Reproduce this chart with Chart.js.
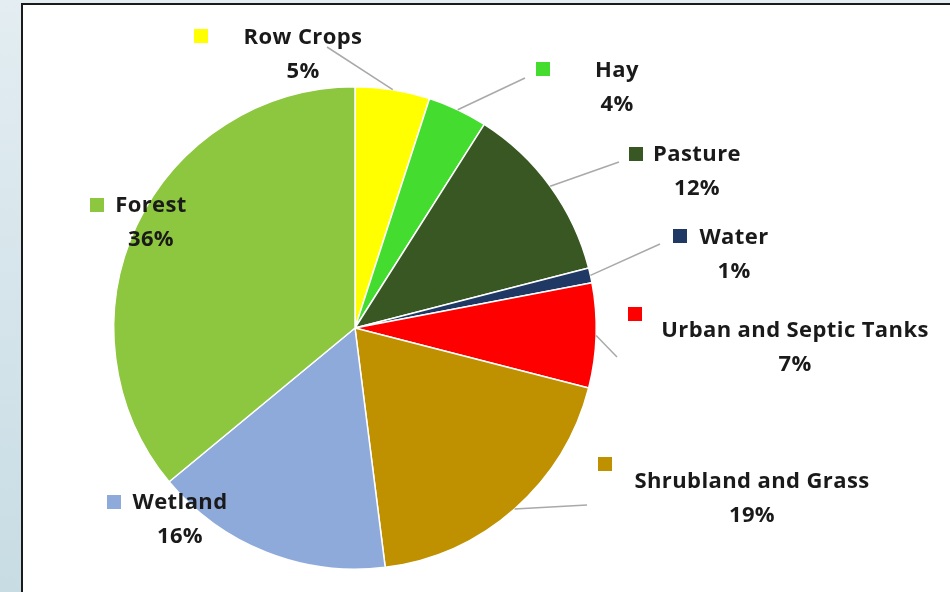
<!DOCTYPE html>
<html>
<head>
<meta charset="utf-8">
<script src="https://cdn.jsdelivr.net/npm/chart.js@4"></script>
<style>
  html, body { margin: 0; padding: 0; }
  body {
    width: 950px; height: 592px; overflow: hidden; position: relative;
    background: linear-gradient(to bottom, #e3edf2, #c8dce4);
  }
  #frame {
    position: absolute; left: 21px; top: 3px; width: 940px; height: 600px;
    background: #fff; border-left: 2.5px solid #1b1b1b; border-top: 2px solid #1b1b1b;
  }
  #wrap { position: absolute; left: 0; top: 0; width: 950px; height: 592px; }
</style>
</head>
<body>
<div id="frame"></div>
<div id="wrap"><canvas id="pie"></canvas></div>
<script>
const categories = ['Row Crops', 'Hay', 'Pasture', 'Water', 'Urban and Septic Tanks', 'Shrubland and Grass', 'Wetland', 'Forest'];
const shares = [5, 4, 12, 1, 7, 19, 16, 36];
const sliceColors = ['#ffff00', '#44dc2f', '#385723', '#1f3864', '#ff0000', '#bf9000', '#8eaadb', '#8dc63f'];

// where each callout sits: text centre, name line y, key square, leader end
const callouts = [
  {cx: 303, y: 38, key: [194, 29], lead: [327, 47]},
  {cx: 617, y: 71, key: [536, 62], lead: [525, 78]},
  {cx: 697, y: 155, key: [629, 147], lead: [619, 162]},
  {cx: 734, y: 238, key: [673, 229], lead: [660, 244]},
  {cx: 795, y: 331, key: [628, 307], lead: [617, 357]},
  {cx: 752, y: 482, key: [598, 457], lead: [587, 505]},
  {cx: 180, y: 503, key: [107, 495], lead: null},
  {cx: 151, y: 206, key: [90, 198], lead: null}
];

const calloutPlugin = {
  id: 'callouts',
  afterDatasetsDraw(chart) {
    const ctx = chart.ctx;
    const arcs = chart.getDatasetMeta(0).data;
    ctx.save();
    arcs.forEach((arc, i) => {
      const c = callouts[i];
      const {x, y, startAngle, endAngle, outerRadius} = arc.getProps(['x', 'y', 'startAngle', 'endAngle', 'outerRadius'], true);
      if (c.lead) {
        const mid = (startAngle + endAngle) / 2;
        ctx.beginPath();
        ctx.moveTo(x + Math.cos(mid) * outerRadius, y + Math.sin(mid) * outerRadius);
        ctx.lineTo(c.lead[0], c.lead[1]);
        ctx.strokeStyle = '#a9a9a9';
        ctx.lineWidth = 1.5;
        ctx.stroke();
      }
      ctx.fillStyle = sliceColors[i];
      ctx.fillRect(c.key[0], c.key[1], 14, 14);
      ctx.fillStyle = '#1a1a1a';
      ctx.font = 'bold 22px "Open Sans"';
      ctx.letterSpacing = '0.4px';
      ctx.textAlign = 'center';
      ctx.textBaseline = 'middle';
      ctx.fillText(categories[i], c.cx, c.y);
      ctx.fillText(shares[i] + '%', c.cx, c.y + 34);
    });
    ctx.restore();
  }
};

new Chart(document.getElementById('pie'), {
  type: 'pie',
  data: {
    labels: categories,
    datasets: [{
      data: shares,
      backgroundColor: sliceColors,
      borderColor: '#ffffff',
      borderWidth: 1.5
    }]
  },
  options: {
    responsive: true,
    maintainAspectRatio: false,
    animation: false,
    layout: {padding: {left: 113, right: 353, top: 86, bottom: 22}},
    plugins: {
      legend: {display: false},
      tooltip: {enabled: false}
    }
  },
  plugins: [calloutPlugin]
});
</script>
</body>
</html>
